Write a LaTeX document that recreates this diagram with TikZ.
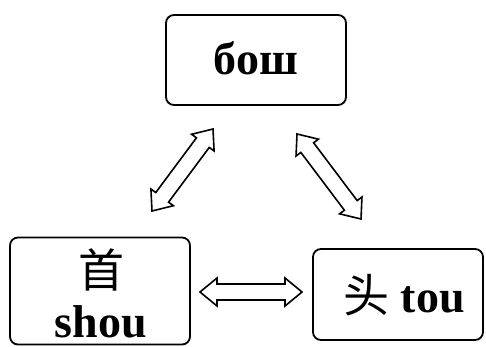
\documentclass[tikz,border=0pt]{standalone}
\usepackage{fontspec}
\setmainfont{Liberation Serif}
\newfontfamily\cjk{Noto Sans CJK SC}
\usetikzlibrary{calc}
\tikzset{
  box/.style={draw, line width=1.8pt, rounded corners=8pt, inner sep=0pt},
  lbl/.style={font=\bfseries\fontsize{46}{50}\selectfont, align=center},
  hollow/.style={draw, line width=1.6pt, fill=white, line join=miter}
}
\newcommand\hollowarrow[2]{%
  \draw[hollow] (#1)
    -- ($(#1)!17pt!(#2)!14pt!90:(#2)$)
    -- ($(#1)!17pt!(#2)!8pt!90:(#2)$)
    -- ($(#2)!17pt!(#1)!8pt!-90:(#1)$)
    -- ($(#2)!17pt!(#1)!14pt!-90:(#1)$)
    -- (#2)
    -- ($(#2)!17pt!(#1)!14pt!90:(#1)$)
    -- ($(#2)!17pt!(#1)!8pt!90:(#1)$)
    -- ($(#1)!17pt!(#2)!8pt!-90:(#2)$)
    -- ($(#1)!17pt!(#2)!14pt!-90:(#2)$)
    -- cycle;}
\begin{document}
\begin{tikzpicture}[x=1pt,y=-1pt]
\useasboundingbox (0,0) rectangle (486,347);
\node[box, minimum width=180pt, minimum height=90pt] (bosh) at (256,60) {};
\node[lbl] (boshtxt) at (256,58) {бош};
\node[box, minimum width=180pt, minimum height=107pt] (shou) at (100,291) {};
\node[lbl] (shoutxt) at (101,293) {{\cjk\mdseries 首}\\shou};
\node[box, minimum width=170pt, minimum height=91pt] (tou) at (398,294.5) {};
\node[lbl] (toutxt) at (404,295) {{\cjk\mdseries 头} tou};
\coordinate (a1s) at (152,211);
\coordinate (a1e) at (213,129);
\coordinate (a2s) at (297,134);
\coordinate (a2e) at (361,219);
\coordinate (a3s) at (200,292);
\coordinate (a3e) at (302,292);
\hollowarrow{a1s}{a1e}
\hollowarrow{a2s}{a2e}
\hollowarrow{a3s}{a3e}
\end{tikzpicture}
\end{document}
